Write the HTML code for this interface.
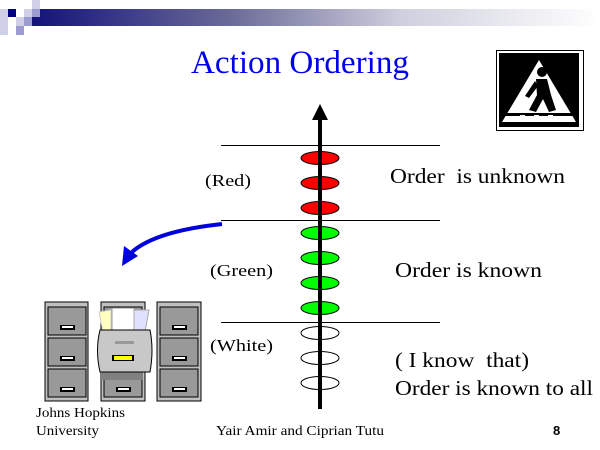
<!DOCTYPE html>
<html><head><style>
html,body{margin:0;padding:0;background:#fff;}
svg{display:block;}
</style></head><body>
<svg width="600" height="450" viewBox="0 0 600 450" xmlns="http://www.w3.org/2000/svg" font-family="Liberation Serif, serif">
<defs>
<linearGradient id="g" x1="0" x2="1" y1="0" y2="0">
<stop offset="0" stop-color="#13127a"/>
<stop offset="0.35" stop-color="#6a6a98"/>
<stop offset="0.65" stop-color="#cfcfde"/>
<stop offset="1" stop-color="#ffffff"/>
</linearGradient>
</defs>
<rect x="31" y="9" width="569" height="17" fill="url(#g)"/>
<rect x="0" y="9" width="8" height="26" fill="#cfd0e8"/>
<rect x="8" y="9" width="8" height="8" fill="#000080"/>
<rect x="32" y="0" width="8" height="9" fill="#cfd0e8"/>
<rect x="24" y="9" width="8" height="8" fill="#cfd0e8"/>
<rect x="32" y="9" width="8" height="8" fill="#9c9cd0"/>
<rect x="16" y="17" width="8" height="9" fill="#cfd0e8"/>
<rect x="24" y="17" width="8" height="9" fill="#9c9cd0"/>
<rect x="16" y="26" width="8" height="9" fill="#9c9cd0"/>
<text x="191" y="73" font-size="33" fill="#0000ee" textLength="218" lengthAdjust="spacingAndGlyphs">Action Ordering</text>
<rect x="496.5" y="50.5" width="87" height="80" fill="none" stroke="#000" stroke-width="1"/>
<rect x="499" y="53" width="80" height="74" fill="#000"/>
<polygon points="539,60 576,122 502,122" fill="#fff"/>
<g fill="#000">
<circle cx="542" cy="72" r="5"/>
<path d="M536,79 L547,79 L551,95 L556,110 L549,112 L543,99 L536,112 L529,110 L537,95 Z"/>
<path d="M535,81 L525,96 L529,98 L538,86Z"/>
<rect x="505" y="113" width="70" height="3"/>
</g>
<g fill="#fff"><rect x="520" y="115" width="5" height="6"/><rect x="534" y="115" width="5" height="6"/><rect x="548" y="115" width="5" height="6"/></g>
<g stroke="#000" stroke-width="1">
<line x1="221" y1="145.5" x2="440" y2="145.5"/>
<line x1="221" y1="220.5" x2="440" y2="220.5"/>
<line x1="221" y1="322.5" x2="440" y2="322.5"/>
</g>
<g stroke="#000" stroke-width="1">
<ellipse cx="320" cy="158" rx="19" ry="6.5" fill="#ff0000"/>
<ellipse cx="320" cy="183" rx="19" ry="6.5" fill="#ff0000"/>
<ellipse cx="320" cy="208" rx="19" ry="6.5" fill="#ff0000"/>
<ellipse cx="320" cy="233" rx="19" ry="6.5" fill="#00ff00"/>
<ellipse cx="320" cy="258" rx="19" ry="6.5" fill="#00ff00"/>
<ellipse cx="320" cy="283" rx="19" ry="6.5" fill="#00ff00"/>
<ellipse cx="320" cy="308" rx="19" ry="6.5" fill="#00ff00"/>
<ellipse cx="320" cy="333" rx="19" ry="6.5" fill="#fff"/>
<ellipse cx="320" cy="358" rx="19" ry="6.5" fill="#fff"/>
<ellipse cx="320" cy="383" rx="19" ry="6.5" fill="#fff"/>
</g>
<rect x="318" y="118" width="4" height="291" fill="#000"/>
<polygon points="320,104 312,120 328,120" fill="#000"/>
<g font-size="17" fill="#000">
<text x="205" y="186" textLength="46" lengthAdjust="spacingAndGlyphs">(Red)</text>
<text x="210" y="276" textLength="63" lengthAdjust="spacingAndGlyphs">(Green)</text>
<text x="210" y="351" textLength="63" lengthAdjust="spacingAndGlyphs">(White)</text>
</g>
<g font-size="21" fill="#000">
<text x="390" y="183" xml:space="preserve" textLength="175" lengthAdjust="spacingAndGlyphs">Order  is unknown</text>
<text x="395" y="277" textLength="147" lengthAdjust="spacingAndGlyphs">Order is known</text>
<text x="395" y="367" xml:space="preserve" textLength="134" lengthAdjust="spacingAndGlyphs">( I know  that)</text>
<text x="395" y="395" textLength="198" lengthAdjust="spacingAndGlyphs">Order is known to all</text>
</g>
<path d="M222,224 C185,228 150,236 132,252" fill="none" stroke="#0000dd" stroke-width="4"/>
<polygon points="122,266 124,246 138,256" fill="#0000dd"/>
<g stroke="#000" stroke-width="1">
<rect x="45" y="302" width="43" height="99" fill="#c0c0c0"/>
<rect x="101" y="302" width="44" height="99" fill="#c0c0c0"/>
<rect x="157" y="302" width="44" height="99" fill="#c0c0c0"/>
<g fill="#999">
<rect x="48" y="307" width="38" height="28"/><rect x="48" y="338" width="38" height="28"/><rect x="48" y="369" width="38" height="28"/>
<rect x="104" y="307" width="38" height="28"/><rect x="104" y="338" width="38" height="28"/><rect x="104" y="369" width="38" height="28"/>
<rect x="160" y="307" width="38" height="28"/><rect x="160" y="338" width="38" height="28"/><rect x="160" y="369" width="38" height="28"/>
</g>
</g>
<g fill="#000">
<rect x="60" y="325" width="15" height="5"/><rect x="60" y="356" width="15" height="5"/><rect x="60" y="387" width="15" height="5"/>
<rect x="116" y="387" width="15" height="5"/>
<rect x="172" y="325" width="15" height="5"/><rect x="172" y="356" width="15" height="5"/><rect x="172" y="387" width="15" height="5"/>
</g>
<g fill="#fff"><rect x="62" y="326" width="11" height="2"/><rect x="62" y="357" width="11" height="2"/><rect x="62" y="388" width="11" height="2"/><rect x="174" y="326" width="11" height="2"/><rect x="174" y="357" width="11" height="2"/><rect x="174" y="388" width="11" height="2"/><rect x="118" y="388" width="11" height="2"/></g>
<polygon points="99,312 111,310 111,332 103,332" fill="#ffffc0" stroke="#ccc"/>
<rect x="112" y="308" width="22" height="24" fill="#fff" stroke="#999"/>
<polygon points="134,310 149,310 145,332 134,332" fill="#e0e0ff" stroke="#aaa"/>
<rect x="101" y="372" width="42" height="8" fill="#808080"/>
<path d="M100,330 L150,330 Q154,350 150,372 L100,372 Q95,350 100,330 Z" fill="#c8c8c8" stroke="#000"/>
<rect x="112" y="355" width="22" height="6" fill="#000"/>
<rect x="114" y="356" width="18" height="4" fill="#ffff00"/>
<rect x="115" y="341" width="19" height="3" fill="#999"/>
<g font-size="14" fill="#000">
<text x="36" y="417" textLength="89" lengthAdjust="spacingAndGlyphs">Johns Hopkins</text>
<text x="36" y="435" textLength="63" lengthAdjust="spacingAndGlyphs">University</text>
<text x="216" y="435" textLength="168" lengthAdjust="spacingAndGlyphs">Yair Amir and Ciprian Tutu</text>
</g>
<text x="553" y="435" font-size="13" font-weight="bold" font-family="Liberation Sans, sans-serif">8</text>
</svg>
</body></html>
